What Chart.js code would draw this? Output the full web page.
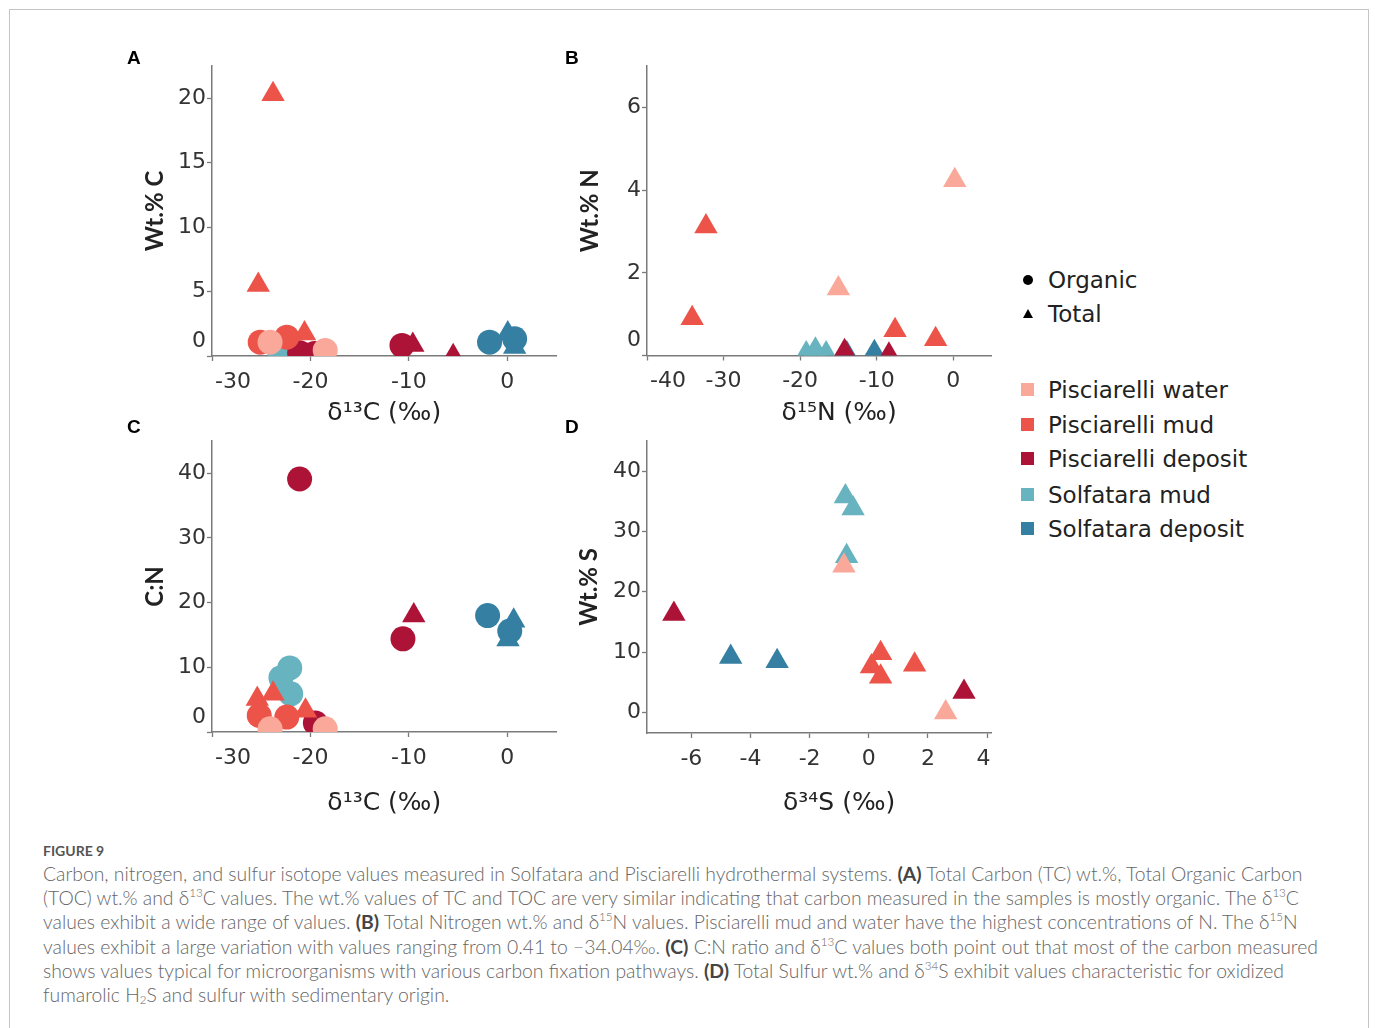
<!DOCTYPE html>
<html><head><meta charset="utf-8">
<script src="https://cdn.jsdelivr.net/npm/chart.js@4/dist/chart.umd.min.js"></script>
<style>
html,body{margin:0;padding:0;background:#fff}
body{width:1375px;height:1028px;overflow:hidden;position:relative;font-family:"DejaVu Sans",sans-serif}
#frame{position:absolute;left:9px;top:9px;width:1358px;height:1040px;border:1px solid #c4c4c4;border-bottom:none}
canvas.pc{position:absolute}
.letter{position:absolute;font:bold 19px "Liberation Sans",Arial,sans-serif;color:#000;line-height:1}
#legend{position:absolute;left:1018px;top:262px;font-family:"DejaVu Sans",sans-serif;font-size:23px;color:#222}
.lrow{position:absolute;left:0;white-space:nowrap;height:30px;line-height:30px}
.lrow span.t{position:absolute;left:30px;top:0}
.dot{position:absolute;left:5px;top:10px;width:10px;height:10px;border-radius:50%;background:#000}
.tri{position:absolute;left:5px;top:10px;width:0;height:0;border-left:5px solid transparent;border-right:5px solid transparent;border-bottom:9px solid #000}
.sq{position:absolute;left:3px;top:8px;width:13px;height:13px}
#figlabel{position:absolute;left:43px;top:842px;font:bold 14px Lato,sans-serif;color:#555;letter-spacing:0}
#caption{position:absolute;left:43px;top:862px;font-family:Lato,sans-serif;font-weight:300;font-size:19.35px;line-height:24.2px;color:#666;white-space:nowrap}
#caption b{font-weight:700;color:#444}
#caption sup{font-size:0.6em;line-height:0;vertical-align:0.65em}
#caption sub{font-size:0.6em;line-height:0;vertical-align:-0.15em}
</style>
</head>
<body>
<div id="frame"></div>

<canvas class="pc" id="cA" width="470" height="385" style="left:100px;top:50px"></canvas>
<canvas class="pc" id="cB" width="470" height="385" style="left:535px;top:50px"></canvas>
<canvas class="pc" id="cC" width="470" height="400" style="left:100px;top:425px"></canvas>
<canvas class="pc" id="cD" width="470" height="400" style="left:535px;top:425px"></canvas>

<div class="letter" style="left:127px;top:48px">A</div>
<div class="letter" style="left:565px;top:48px">B</div>
<div class="letter" style="left:127px;top:417px">C</div>
<div class="letter" style="left:565px;top:417px">D</div>

<div id="legend">
  <div class="lrow" style="top:3px"><div class="dot"></div><span class="t">Organic</span></div>
  <div class="lrow" style="top:37px"><div class="tri"></div><span class="t">Total</span></div>
  <div class="lrow" style="top:113px"><div class="sq" style="background:#F9A899"></div><span class="t">Pisciarelli water</span></div>
  <div class="lrow" style="top:148px"><div class="sq" style="background:#EC5349"></div><span class="t">Pisciarelli mud</span></div>
  <div class="lrow" style="top:182px"><div class="sq" style="background:#AD1237"></div><span class="t">Pisciarelli deposit</span></div>
  <div class="lrow" style="top:218px"><div class="sq" style="background:#67B3BF"></div><span class="t">Solfatara mud</span></div>
  <div class="lrow" style="top:252px"><div class="sq" style="background:#347FA2"></div><span class="t">Solfatara deposit</span></div>
</div>

<div id="figlabel">FIGURE 9</div>
<div id="caption">Carbon, nitrogen, and sulfur isotope values measured in Solfatara and Pisciarelli hydrothermal systems. <b>(A)</b> Total Carbon (TC) wt.%, Total Organic Carbon<br>(TOC) wt.% and δ<sup>13</sup>C values. The wt.% values of TC and TOC are very similar indicating that carbon measured in the samples is mostly organic. The δ<sup>13</sup>C<br>values exhibit a wide range of values. <b>(B)</b> Total Nitrogen wt.% and δ<sup>15</sup>N values. Pisciarelli mud and water have the highest concentrations of N. The δ<sup>15</sup>N<br>values exhibit a large variation with values ranging from 0.41 to −34.04‰. <b>(C)</b> C:N ratio and δ<sup>13</sup>C values both point out that most of the carbon measured<br>shows values typical for microorganisms with various carbon fixation pathways. <b>(D)</b> Total Sulfur wt.% and δ<sup>34</sup>S exhibit values characteristic for oxidized<br>fumarolic H<sub>2</sub>S and sulfur with sedimentary origin.</div>

<script>
// ---------- DATA ----------
const GROUP_NAMES = ['Pisciarelli water', 'Pisciarelli mud', 'Pisciarelli deposit', 'Solfatara mud', 'Solfatara deposit'];
const GROUP_COLORS = ['#F9A899', '#EC5349', '#AD1237', '#67B3BF', '#347FA2'];
// group index into GROUP_NAMES; type: O = Organic (circle), T = Total (triangle)

// Panel A: δ13C (‰) vs Wt.% C
const aGroup = [1, 1, 1, 0, 3, 1, 1, 2, 2, 0, 2, 2, 2, 4, 4, 4, 4];
const aType  = ['T','T','O','O','O','O','T','O','O','O','O','T','T','O','O','T','T'];
const aX     = [-23.8, -25.3, -25.1, -24.1, -23.1, -22.4, -20.6, -21.1, -19.6, -18.5, -10.7, -9.6, -5.5, -1.8, 0.75, 0.05, 0.75];
const aY     = [20.3, 5.5, 1.07, 1.07, 0.3, 1.46, 1.75, 0.25, 0.2, 0.43, 0.82, 0.85, -0.02, 1.07, 1.33, 1.75, 0.7];

// Panel B: δ15N (‰) vs Wt.% N
const bGroup = [1, 1, 0, 0, 1, 1, 3, 3, 3, 4, 2, 4, 2];
const bType  = ['T','T','T','T','T','T','T','T','T','T','T','T','T'];
const bX     = [-32.3, -34.1, 0.2, -15.0, -7.6, -2.3, -19.2, -18.0, -16.6, -13.9, -14.2, -10.3, -8.4];
const bY     = [3.12, 0.9, 4.24, 1.62, 0.61, 0.39, 0.05, 0.14, 0.05, 0.05, 0.1, 0.08, 0.02];

// Panel C: δ13C (‰) vs C:N
const cGroup = [2, 2, 2, 4, 4, 4, 4, 3, 3, 3, 1, 1, 1, 1, 1, 2, 0, 0];
const cType  = ['O','T','O','O','T','O','T','O','O','O','T','T','T','O','O','O','O','O'];
const cX     = [-21.1, -9.5, -10.6, -2.0, 0.65, 0.25, 0.07, -22.1, -23.0, -22.0, -25.4, -23.8, -20.5, -25.2, -22.4, -19.5, -24.1, -18.5];
const cY     = [39.1, 18.0, 14.4, 18.0, 17.2, 15.6, 14.3, 9.9, 8.4, 5.9, 5.1, 5.9, 3.3, 2.55, 2.3, 1.4, 0.5, 0.5];

// Panel D: δ34S (‰) vs Wt.% S
const dGroup = [2, 4, 4, 3, 3, 3, 0, 1, 1, 1, 1, 2, 0];
const dType  = ['T','T','T','T','T','T','T','T','T','T','T','T','T'];
const dX     = [-6.59, -4.67, -3.1, -0.79, -0.53, -0.75, -0.84, 0.4, 0.09, 0.4, 1.55, 3.22, 2.6];
const dY     = [16.3, 9.2, 8.5, 35.8, 33.8, 25.9, 24.3, 9.8, 7.6, 5.9, 7.9, 3.4, 0.0];

// Tick values
const xTicksC13 = [-30, -20, -10, 0];
const xTicksN15 = [-40, -30, -20, -10, 0];
const xTicksS34 = [-6, -4, -2, 0, 2, 4];
const yTicksA = [0, 5, 10, 15, 20];
const yTicksB = [0, 2, 4, 6];
const yTicksC = [0, 10, 20, 30, 40];
const yTicksD = [0, 10, 20, 30, 40];

// ---------- BUILD ----------
function buildDatasets(grp, typ, xs, ys) {
  return GROUP_NAMES.map((name, g) => {
    const idx = grp.map((v, i) => v === g ? i : -1).filter(i => i >= 0);
    return {
      label: name,
      data: idx.map(i => ({x: xs[i], y: ys[i]})),
      pointStyle: idx.map(i => typ[i] === 'O' ? 'circle' : 'triangle'),
      pointRadius: idx.map(i => typ[i] === 'O' ? 12.5 : 13.5),
      pointHoverRadius: idx.map(i => typ[i] === 'O' ? 12.5 : 13.5),
      backgroundColor: GROUP_COLORS[g],
      borderColor: GROUP_COLORS[g],
      pointBorderWidth: 0,
      showLine: false,
      clip: 0
    };
  });
}

const TICK_FONT = {family: 'DejaVu Sans', size: 22, weight: '400', lineHeight: 1.35};
const TICK_COLOR = '#333';
const AXIS_COLOR = '#7a7a7a';

function makePanel(id, p) {
  const canvas = document.getElementById(id);
  const cx = parseFloat(canvas.style.left), cy = parseFloat(canvas.style.top);
  const cw = canvas.width, ch = canvas.height;
  const yW = p.area[0] - cx, padTop = p.area[1] - cy, padRight = cx + cw - p.area[2], xH = cy + ch - p.area[3];
  const ytFont = {family: 'Lato', size: 24, weight: '700', lineHeight: 1.2};
  const xtFont = {family: 'DejaVu Sans', size: 25, weight: '400', lineHeight: 1.2};
  const ytPad = (p.yTitleX - cx) - 24 * 1.2 / 2;
  const xtPad = (cy + ch - p.xTitleY) - 25 * 1.2 / 2;
  new Chart(canvas, {
    type: 'scatter',
    data: {datasets: buildDatasets(p.grp, p.typ, p.xs, p.ys)},
    options: {
      responsive: false, animation: false, devicePixelRatio: 1,
      layout: {padding: {left: 0, top: padTop, right: padRight, bottom: 0}},
      plugins: {legend: {display: false}, tooltip: {enabled: false}},
      events: [],
      scales: {
        x: {
          type: 'linear', min: p.xMin, max: p.xMax,
          afterBuildTicks: s => { s.ticks = p.xTicks.map(v => ({value: v})); },
          afterFit: s => { s.height = xH; },
          grid: {display: true, drawOnChartArea: false, drawTicks: true, tickLength: 5, tickColor: AXIS_COLOR, tickWidth: 1.3},
          border: {display: true, color: AXIS_COLOR, width: 1.5},
          ticks: {font: TICK_FONT, color: TICK_COLOR, padding: 6, autoSkip: false, maxRotation: 0,
                  callback: v => p.xLabel(v)},
          title: {display: true, text: p.xTitle, font: xtFont, color: '#222', padding: {top: 0, bottom: xtPad}}
        },
        y: {
          type: 'linear', min: p.yMin, max: p.yMax,
          afterBuildTicks: s => { s.ticks = p.yTicks.map(v => ({value: v})); },
          afterFit: s => { s.width = yW; },
          grid: {display: true, drawOnChartArea: false, drawTicks: true, tickLength: 5, tickColor: AXIS_COLOR, tickWidth: 1.3},
          border: {display: true, color: AXIS_COLOR, width: 1.5},
          ticks: {font: TICK_FONT, color: TICK_COLOR, padding: 1, autoSkip: false,
                  callback: v => p.yLabel(v)},
          title: {display: true, text: p.yTitle, font: ytFont, color: '#222', padding: {top: ytPad, bottom: 0}}
        }
      }
    }
  });
}

const SP = '      ';
const firstPad = first => v => (v === first ? SP + String(v) : String(v));
const zeroUp = v => (v === 0 ? ['0', ''] : String(v));

makePanel('cA', {
  grp: aGroup, typ: aType, xs: aX, ys: aY,
  area: [212, 66, 558, 356], yTitleX: 155, xTitleY: 413,
  xMin: -30, xMax: 5, yMin: 0, yMax: 22.5,
  xTicks: xTicksC13, yTicks: yTicksA,
  xLabel: firstPad(-30), yLabel: zeroUp,
  xTitle: 'δ¹³C (‰)', yTitle: 'Wt.% C'
});
makePanel('cB', {
  grp: bGroup, typ: bType, xs: bX, ys: bY,
  area: [647, 66, 992, 355.5], yTitleX: 590, xTitleY: 413,
  xMin: -40, xMax: 5, yMin: 0, yMax: 7,
  xTicks: xTicksN15, yTicks: yTicksB,
  xLabel: firstPad(-40), yLabel: zeroUp,
  xTitle: '     δ¹⁵N (‰)', yTitle: 'Wt.% N'
});
makePanel('cC', {
  grp: cGroup, typ: cType, xs: cX, ys: cY,
  area: [212, 437, 557, 732], yTitleX: 155, xTitleY: 803,
  xMin: -30, xMax: 5, yMin: 0, yMax: 45,
  xTicks: xTicksC13, yTicks: yTicksC,
  xLabel: firstPad(-30), yLabel: zeroUp,
  xTitle: 'δ¹³C (‰)', yTitle: 'C:N'
});
makePanel('cD', {
  grp: dGroup, typ: dType, xs: dX, ys: dY,
  area: [647, 437, 992, 733], yTitleX: 589, xTitleY: 803,
  xMin: -7.5, xMax: 4.15, yMin: -3.4, yMax: 45,
  xTicks: xTicksS34, yTicks: yTicksD,
  xLabel: v => (v === 4 ? '4 ' : String(v)), yLabel: v => String(v),
  xTitle: '     δ³⁴S (‰)', yTitle: 'Wt.% S'
});
</script>
</body></html>
